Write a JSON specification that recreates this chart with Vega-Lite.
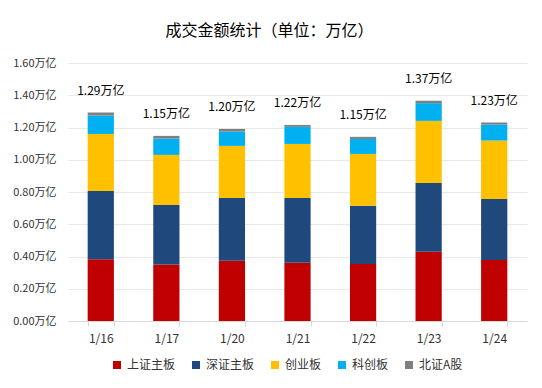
{
  "$schema": "https://vega.github.io/schema/vega-lite/v6.json",
  "width": 459,
  "height": 258,
  "autosize": {"type": "none"},
  "padding": {"left": 68, "top": 63, "right": 15, "bottom": 67},
  "background": "white",
  "title": {"text": "成交金额统计（单位：万亿）", "font": "Noto Sans CJK SC", "fontSize": 16, "fontWeight": "normal", "color": "#000000", "anchor": "middle", "dx": -28, "offset": 18},
  "config": {
    "view": {"stroke": null},
    "font": "Noto Sans CJK SC"
  },
  "datasets": {
    "seg": [
      {"date": "1/16", "board": "上证主板", "k": 1, "value": 0.383},
      {"date": "1/16", "board": "深证主板", "k": 2, "value": 0.423},
      {"date": "1/16", "board": "创业板", "k": 3, "value": 0.354},
      {"date": "1/16", "board": "科创板", "k": 4, "value": 0.114},
      {"date": "1/16", "board": "北证A股", "k": 5, "value": 0.019},
      {"date": "1/17", "board": "上证主板", "k": 1, "value": 0.350},
      {"date": "1/17", "board": "深证主板", "k": 2, "value": 0.369},
      {"date": "1/17", "board": "创业板", "k": 3, "value": 0.311},
      {"date": "1/17", "board": "科创板", "k": 4, "value": 0.101},
      {"date": "1/17", "board": "北证A股", "k": 5, "value": 0.017},
      {"date": "1/20", "board": "上证主板", "k": 1, "value": 0.373},
      {"date": "1/20", "board": "深证主板", "k": 2, "value": 0.390},
      {"date": "1/20", "board": "创业板", "k": 3, "value": 0.323},
      {"date": "1/20", "board": "科创板", "k": 4, "value": 0.089},
      {"date": "1/20", "board": "北证A股", "k": 5, "value": 0.016},
      {"date": "1/21", "board": "上证主板", "k": 1, "value": 0.361},
      {"date": "1/21", "board": "深证主板", "k": 2, "value": 0.402},
      {"date": "1/21", "board": "创业板", "k": 3, "value": 0.335},
      {"date": "1/21", "board": "科创板", "k": 4, "value": 0.106},
      {"date": "1/21", "board": "北证A股", "k": 5, "value": 0.012},
      {"date": "1/22", "board": "上证主板", "k": 1, "value": 0.354},
      {"date": "1/22", "board": "深证主板", "k": 2, "value": 0.361},
      {"date": "1/22", "board": "创业板", "k": 3, "value": 0.321},
      {"date": "1/22", "board": "科创板", "k": 4, "value": 0.093},
      {"date": "1/22", "board": "北证A股", "k": 5, "value": 0.013},
      {"date": "1/23", "board": "上证主板", "k": 1, "value": 0.429},
      {"date": "1/23", "board": "深证主板", "k": 2, "value": 0.427},
      {"date": "1/23", "board": "创业板", "k": 3, "value": 0.385},
      {"date": "1/23", "board": "科创板", "k": 4, "value": 0.110},
      {"date": "1/23", "board": "北证A股", "k": 5, "value": 0.015},
      {"date": "1/24", "board": "上证主板", "k": 1, "value": 0.379},
      {"date": "1/24", "board": "深证主板", "k": 2, "value": 0.377},
      {"date": "1/24", "board": "创业板", "k": 3, "value": 0.363},
      {"date": "1/24", "board": "科创板", "k": 4, "value": 0.099},
      {"date": "1/24", "board": "北证A股", "k": 5, "value": 0.013}
    ],
    "tot": [
      {"date": "1/16", "total": 1.293, "label": "1.29万亿"},
      {"date": "1/17", "total": 1.148, "label": "1.15万亿"},
      {"date": "1/20", "total": 1.191, "label": "1.20万亿"},
      {"date": "1/21", "total": 1.216, "label": "1.22万亿"},
      {"date": "1/22", "total": 1.142, "label": "1.15万亿"},
      {"date": "1/23", "total": 1.366, "label": "1.37万亿"},
      {"date": "1/24", "total": 1.231, "label": "1.23万亿"}
    ]
  },
  "layer": [
    {
      "data": {"name": "seg"},
      "mark": {"type": "bar"},
      "encoding": {
        "x": {
          "field": "date", "type": "nominal", "sort": null, "title": null,
          "scale": {"paddingInner": 0.6, "paddingOuter": 0.3},
          "axis": {"labelAngle": 0, "labelFontSize": 12, "labelColor": "#333333", "domainColor": "#d9d9d9", "tickColor": "#d9d9d9", "tickSize": 5, "tickBand": "extent", "labelPadding": 7, "grid": false}
        },
        "y": {
          "field": "value", "type": "quantitative", "stack": "zero", "title": null,
          "scale": {"domain": [0, 1.6], "nice": false},
          "axis": {"values": [0, 0.2, 0.4, 0.6, 0.8, 1.0, 1.2, 1.4, 1.6], "labelOverlap": false, "labelExpr": "format(datum.value, '.2f') + '万亿'", "labelFontSize": 11, "labelColor": "#333333", "domain": false, "ticks": false, "labelPadding": 12, "gridColor": "#e8e8e8"}
        },
        "color": {
          "field": "board", "type": "nominal",
          "scale": {"domain": ["上证主板", "深证主板", "创业板", "科创板", "北证A股"], "range": ["#C00000", "#1F497D", "#FFC000", "#00B0F0", "#7F7F7F"]},
          "legend": {"title": null, "orient": "none", "legendX": 43, "legendY": 296, "direction": "horizontal", "symbolType": "square", "symbolSize": 64, "symbolStrokeWidth": 0, "labelFontSize": 12, "labelColor": "#333333", "labelOffset": 4, "columnPadding": 14}
        },
        "order": {"field": "k", "type": "quantitative"}
      }
    },
    {
      "data": {"name": "tot"},
      "mark": {"type": "text", "dy": -22, "fontSize": 12, "color": "#000000", "baseline": "middle"},
      "encoding": {
        "x": {
          "field": "date", "type": "nominal", "sort": null, "title": null,
          "scale": {"paddingInner": 0.6, "paddingOuter": 0.3},
          "axis": {"labelAngle": 0, "labelFontSize": 12, "labelColor": "#333333", "domainColor": "#d9d9d9", "tickColor": "#d9d9d9", "tickSize": 5, "tickBand": "extent", "labelPadding": 7, "grid": false}
        },
        "y": {
          "field": "total", "type": "quantitative", "title": null,
          "scale": {"domain": [0, 1.6], "nice": false},
          "axis": {"values": [0, 0.2, 0.4, 0.6, 0.8, 1.0, 1.2, 1.4, 1.6], "labelOverlap": false, "labelExpr": "format(datum.value, '.2f') + '万亿'", "labelFontSize": 11, "labelColor": "#333333", "domain": false, "ticks": false, "labelPadding": 12, "gridColor": "#e8e8e8"}
        },
        "text": {"field": "label"}
      }
    }
  ]
}
